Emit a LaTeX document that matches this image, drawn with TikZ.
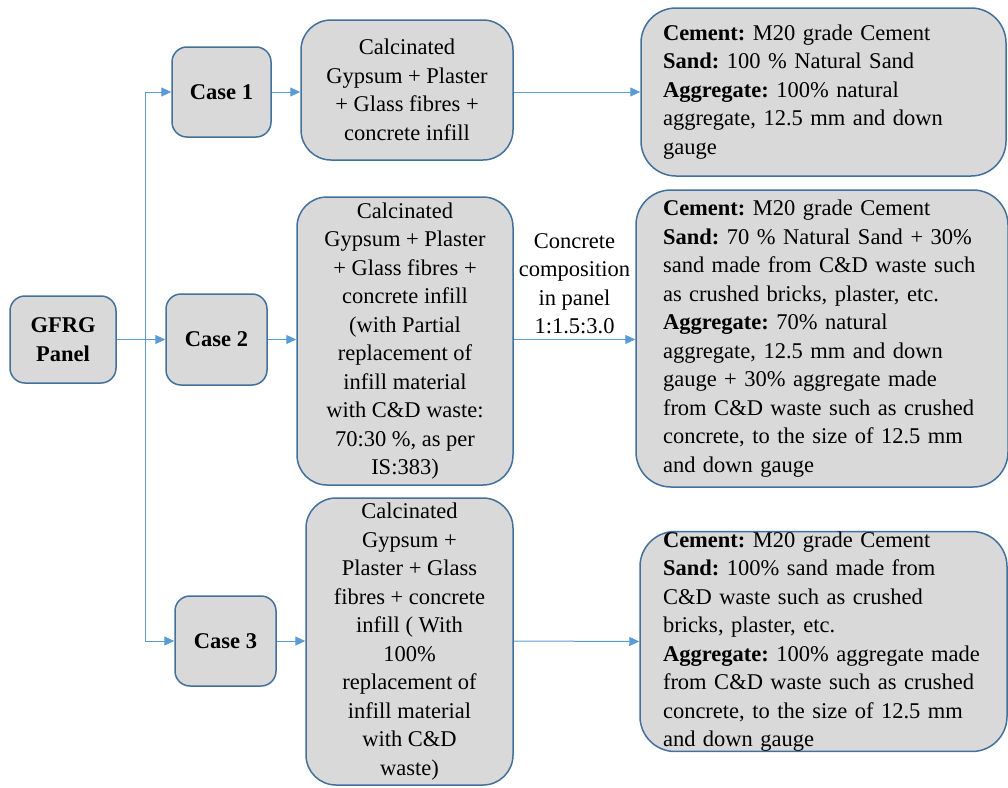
\documentclass[tikz,border=0pt]{standalone}
\usepackage{fontspec}
\setmainfont{Liberation Serif}
\newfontfamily\tnr{Liberation Serif}
\frenchspacing
\usetikzlibrary{arrows.meta}
\definecolor{boxfill}{HTML}{D9D9D9}
\definecolor{boxline}{HTML}{41719C}
\definecolor{arrowc}{HTML}{5B9BD5}
\tikzset{
  base/.style={draw=boxline, fill=boxfill, line width=1.5pt, inner sep=0pt,
    font=\tnr\fontsize{22.5}{28.5}\selectfont},
  casebox/.style={base, rounded corners=15pt, align=center, font=\tnr\fontsize{22.5}{28.5}\selectfont\bfseries},
  midbox/.style={base, rounded corners=30pt, align=center},
  rightbox/.style={base, rounded corners=35pt, align=left, inner xsep=22pt},
  conn/.style={draw=arrowc, line width=1pt, -{Triangle[length=10pt,width=9pt]}},
  trunk/.style={draw=arrowc, line width=1pt},
  lbl/.style={font=\tnr\fontsize{22.5}{28.5}\selectfont, align=center, inner sep=2pt}
}
\begin{document}
\begin{tikzpicture}[x=1pt,y=-1pt]
\useasboundingbox (0,0) rectangle (1008,787);
% left column
\node[casebox, minimum width=106pt, minimum height=87pt] (gfrg) at (63,339.5) {GFRG\\Panel};
\node[casebox, minimum width=99pt, minimum height=90pt] (c1) at (221.5,92) {Case 1};
\node[casebox, minimum width=101pt, minimum height=91pt] (c2) at (216.5,339.5) {Case 2};
\node[casebox, minimum width=101pt, minimum height=90pt] (c3) at (225.5,641) {Case 3};
% middle column
\node[midbox, minimum width=212pt, minimum height=140pt] (t1) at (407,90)
  {Calcinated\\Gypsum + Plaster\\+ Glass fibres +\\concrete infill};
\node[midbox, minimum width=216pt, minimum height=288pt] (t2) at (405,341)
  {Calcinated\\Gypsum + Plaster\\+ Glass fibres +\\concrete infill\\(with Partial\\replacement of\\infill material\\with C\&D waste:\\70:30 \%, as per\\IS:383)};
\node[midbox, minimum width=207pt, minimum height=287pt] (t3) at (409.5,641.5)
  {Calcinated\\Gypsum +\\Plaster + Glass\\fibres + concrete\\infill ( With\\100\%\\replacement of\\infill material\\with C\&D\\waste)};
% right column
\node[rightbox, text width=321pt, minimum height=168pt] (r1) at (823.5,92)
  {\textbf{Cement:} M20 grade Cement\\\textbf{Sand:} 100 \% Natural Sand\\\textbf{Aggregate:} 100\% natural\\aggregate, 12.5 mm and down\\gauge};
\node[rightbox, inner xsep=27pt, text width=318pt, minimum height=297pt] (r2) at (822,338.5)
  {\textbf{Cement:} M20 grade Cement\\\textbf{Sand:} 70 \% Natural Sand + 30\%\\sand made from C\&D waste such\\as crushed bricks, plaster, etc.\\\textbf{Aggregate:} 70\% natural\\aggregate, 12.5 mm and down\\gauge + 30\% aggregate made\\from C\&D waste such as crushed\\concrete, to the size of 12.5 mm\\and down gauge};
\node[rightbox, inner xsep=23pt, text width=321pt, minimum height=217pt] (r3) at (823.5,641.5)
  {\textbf{Cement:} M20 grade Cement\\\textbf{Sand:} 100\% sand made from\\C\&D waste such as crushed\\bricks, plaster, etc.\\\textbf{Aggregate:} 100\% aggregate made\\from C\&D waste such as crushed\\concrete, to the size of 12.5 mm\\and down gauge};
% connectors
\coordinate (j1) at (145,92);
\coordinate (j3) at (145,641);
\draw[trunk] (j1) -- (j3);
\draw[conn] (gfrg.east) -- (c2.west);
\draw[conn] (j1) -- (c1.west);
\draw[conn] (j3) -- (c3.west);
\draw[conn] (c1.east) -- (t1.west |- c1.east);
\draw[conn] (c2.east) -- (t2.west |- c2.east);
\draw[conn] (c3.east) -- (t3.west |- c3.east);
\draw[conn] (t1.east |- c1.east) -- (r1.west);
\draw[conn] (t2.east |- c2.east) -- (r2.west |- c2.east)
  node[lbl, midway, above=3pt] (comp) {Concrete\\composition\\in panel\\1:1.5:3.0};
\draw[conn] (t3.east |- c3.east) -- (r3.west);
\end{tikzpicture}
\end{document}
